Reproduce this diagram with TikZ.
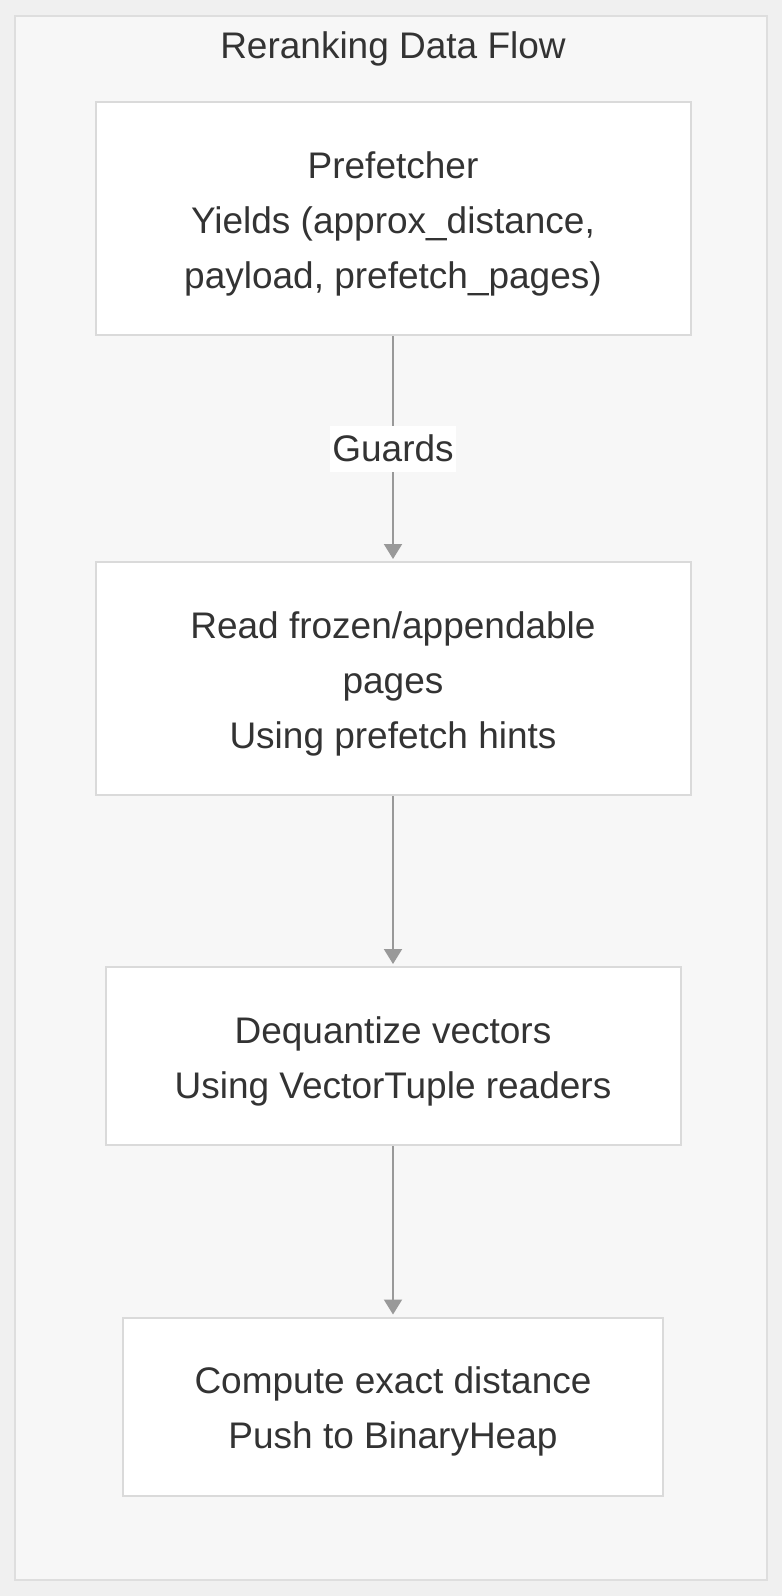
\documentclass[tikz,border=0pt]{standalone}
\usepackage{fontspec}
\setmainfont{Liberation Sans}
\usetikzlibrary{arrows.meta}
\definecolor{pagebg}{HTML}{F0F0F0}
\definecolor{clusterbg}{HTML}{F7F7F7}
\definecolor{clusterline}{HTML}{DEDEDE}
\definecolor{boxline}{HTML}{DADADA}
\definecolor{txt}{HTML}{333333}
\definecolor{arrowc}{HTML}{999999}
\tikzset{
  stepbox/.style={draw=boxline, line width=2pt, fill=white, inner sep=0pt},
  steptext/.style={align=center, text=txt, font=\fontsize{37}{55}\selectfont, inner sep=0pt},
  flow/.style={draw=arrowc, line width=2pt, -{Triangle[width=18pt,length=15pt]}, shorten >=2pt},
  lbl/.style={fill=white, text=txt, font=\fontsize{37}{44}\selectfont, inner xsep=2pt, minimum height=46pt}
}
\begin{document}
\begin{tikzpicture}[x=1pt,y=-1pt]
\path[fill=pagebg] (0,0) rectangle (782,1596);
\useasboundingbox (0,0) rectangle (782,1596);
\node[draw=clusterline, fill=clusterbg, line width=2pt, minimum width=752pt, minimum height=1564pt, inner sep=0pt] (cluster) at (391,798) {};
\node[text=txt, font=\fontsize{37}{44}\selectfont] (title) at (393,49) {Reranking Data Flow};
\node[stepbox, minimum width=595pt, minimum height=233pt] (a) at (393,218.5) {};
\node[stepbox, minimum width=595pt, minimum height=233pt] (b) at (393,678.5) {};
\node[stepbox, minimum width=575pt, minimum height=178pt] (c) at (393,1056) {};
\node[stepbox, minimum width=540pt, minimum height=178pt] (d) at (393,1406.5) {};
\node[steptext] (at) at ([yshift=-5pt]a.center) {Prefetcher\\Yields (approx\_distance,\\payload, prefetch\_pages)};
\node[steptext] (bt) at ([yshift=-5pt]b.center) {Read frozen/appendable\\pages\\Using prefetch hints};
\node[steptext] (ct) at ([yshift=-5pt]c.center) {Dequantize vectors\\Using VectorTuple readers};
\node[steptext] (dt) at ([yshift=-5pt]d.center) {Compute exact distance\\Push to BinaryHeap};
\draw[flow] (a) -- node[lbl] {Guards} (b);
\draw[flow] (b) -- (c);
\draw[flow] (c) -- (d);
\end{tikzpicture}
\end{document}
